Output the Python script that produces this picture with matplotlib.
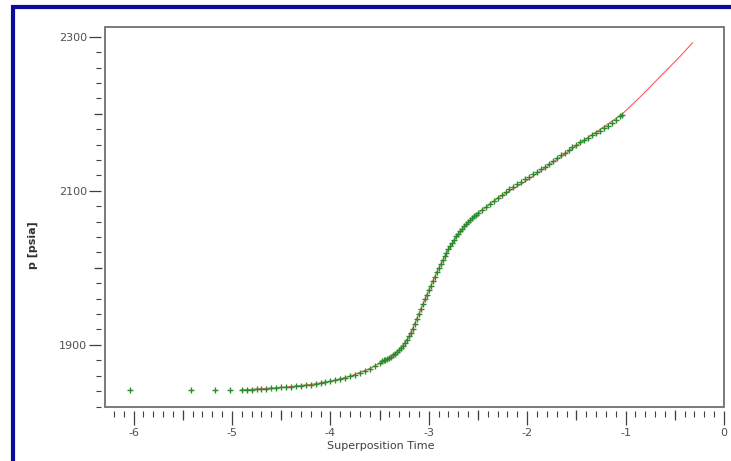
import matplotlib
matplotlib.use("Agg")
import matplotlib.pyplot as plt
from matplotlib.patches import Rectangle
from matplotlib.ticker import MultipleLocator, FixedLocator

plt.rcParams['font.family'] = 'DejaVu Sans'
plt.rcParams['axes.unicode_minus'] = False

# early-time points, away from the main trend
early_t = [-6.04, -5.42, -5.17, -5.02]
early_p = [1841.5, 1841.5, 1841.8, 1841.8]

meas_t = [-4.90, -4.85, -4.80, -4.75, -4.70, -4.65, -4.60, -4.55, -4.50, -4.45,
          -4.40, -4.35, -4.30, -4.25, -4.20, -4.15, -4.10, -4.05, -4.00, -3.95,
          -3.90, -3.85, -3.80, -3.75, -3.70, -3.65, -3.60, -3.55, -3.50,
          -3.48, -3.46, -3.44, -3.42, -3.40, -3.38, -3.36, -3.34, -3.32, -3.30,
          -3.28, -3.26, -3.24, -3.22, -3.20, -3.18, -3.16, -3.14, -3.12, -3.10,
          -3.08, -3.06, -3.04, -3.02, -3.00, -2.98, -2.96, -2.94, -2.92, -2.90,
          -2.88, -2.86, -2.84, -2.82, -2.80, -2.78, -2.76, -2.74, -2.72, -2.70,
          -2.68, -2.66, -2.64, -2.62, -2.60, -2.58, -2.56, -2.54, -2.52, -2.50,
          -2.46, -2.42, -2.38, -2.34, -2.30, -2.26, -2.22, -2.18, -2.14, -2.10,
          -2.06, -2.02, -1.98, -1.94, -1.90, -1.86, -1.82, -1.78, -1.74, -1.70,
          -1.66, -1.62, -1.58, -1.54, -1.50, -1.46, -1.42, -1.38, -1.34, -1.30,
          -1.26, -1.22, -1.18, -1.14, -1.10, -1.06, -1.04]
meas_p = [1841.5, 1841.8, 1842.1, 1842.5, 1842.9, 1843.3, 1843.8, 1844.3, 1844.8, 1845.3,
          1845.8, 1846.4, 1847.0, 1847.8, 1848.6, 1849.5, 1850.5, 1851.6, 1852.8, 1854.2,
          1855.8, 1857.5, 1859.3, 1861.2, 1863.2, 1866.0, 1869.2, 1872.8, 1876.8,
          1878.5, 1880.0, 1881.0, 1882.0, 1883.3, 1884.8, 1886.5, 1888.5, 1890.8, 1893.2,
          1896.0, 1899.2, 1902.8, 1906.8, 1911.0, 1915.5, 1920.0, 1926.5, 1933.5, 1940.5,
          1947.0, 1953.0, 1959.0, 1965.0, 1971.0, 1977.0, 1983.0, 1988.5, 1994.0, 1999.5,
          2005.0, 2010.0, 2015.0, 2019.5, 2024.0, 2028.0, 2032.5, 2036.5, 2041.0, 2044.5,
          2048.0, 2051.0, 2054.0, 2057.0, 2059.5, 2062.0, 2064.5, 2066.8, 2069.0, 2071.0,
          2075.2, 2079.2, 2083.0, 2086.8, 2090.5, 2094.5, 2098.5, 2102.0, 2105.5, 2108.9,
          2112.0, 2115.2, 2118.3, 2121.5, 2124.6, 2127.9, 2131.5, 2135.1, 2138.7, 2142.3,
          2145.9, 2149.4, 2153.0, 2156.6, 2159.8, 2162.9, 2165.9, 2169.0, 2172.0, 2175.1,
          2178.2, 2181.2, 2184.5, 2188.5, 2192.0, 2196.5, 2199.0]

# model curve
model_t = [-4.91, -4.50, -4.20, -4.00, -3.80, -3.60, -3.45, -3.30, -3.20, -3.10,
           -3.00, -2.90, -2.80, -2.70, -2.60, -2.50, -2.30, -2.00, -1.70, -1.40,
           -1.04, -0.85, -0.65, -0.45, -0.32]
model_p = [1841.5, 1844.8, 1848.6, 1852.8, 1859.3, 1869.2, 1879.5, 1893.2, 1911.0, 1940.5,
           1971.0, 1999.5, 2024.0, 2044.5, 2059.5, 2071.0, 2090.5, 2113.6, 2140.5, 2167.5,
           2199.0, 2222.0, 2248.0, 2274.0, 2292.0]

y_labeled = [1900, 2100, 2300]
y_half = [2000, 2200]
x_half = [-5.5, -4.5, -3.5, -2.5, -1.5, -0.5]

W, H = 731, 461
fig = plt.figure(figsize=(W / 100, H / 100), dpi=100)

# dark blue frame at top and left
fig.add_artist(Rectangle((12.5 / W, -0.5), 2.0, 1.5 - 7 / H, transform=fig.transFigure,
                         fill=False, edgecolor='#0c0c9c', linewidth=3.0))

ax = fig.add_axes([105 / W, 1 - 407 / H, 619 / W, 380 / H])

ax.plot(model_t, model_p, color='#ff5a5a', linewidth=0.8, zorder=2)
ax.plot(early_t + meas_t, early_p + meas_p, linestyle='none', marker='+',
        markersize=4.6, markeredgewidth=1.0, color='#2b8a2b', zorder=3)

ax.set_xlim(-6.29, 0)
ax.set_ylim(1819.4, 2312.6)

# box drawn separately, ticks sit a little outside it
for s in ax.spines.values():
    s.set_color('none')
ax.spines['bottom'].set_position(('outward', 3))
ax.spines['left'].set_position(('outward', 3))
ax.add_patch(Rectangle((0, 0), 1, 1, transform=ax.transAxes, fill=False,
                       edgecolor='#707070', linewidth=1.3, clip_on=False, zorder=5))

ax.xaxis.set_major_locator(MultipleLocator(1))
ax.xaxis.set_minor_locator(MultipleLocator(0.1))
ax.yaxis.set_major_locator(FixedLocator(y_labeled))
ax.yaxis.set_minor_locator(MultipleLocator(20))
ax.tick_params(which='major', direction='out', length=10, width=0.9, color='#404040',
               labelsize=8, labelcolor='#505050', pad=2)
ax.tick_params(which='minor', direction='out', length=4, width=0.8, color='#404040')
ax.tick_params(axis='y', which='major', length=9, pad=1)
ax.tick_params(axis='y', which='minor', length=3.5)

# half-step ticks (x: every 0.5, y: every 100)
secx = ax.secondary_xaxis(-3 / 380)
secx.xaxis.set_major_locator(FixedLocator(x_half))
secx.tick_params(direction='out', length=7, width=0.9, color='#404040', labelbottom=False)
secx.spines['bottom'].set_color('none')
secy = ax.secondary_yaxis(-3 / 619)
secy.yaxis.set_major_locator(FixedLocator(y_half))
secy.tick_params(direction='out', length=6, width=0.9, color='#404040', labelleft=False)
secy.spines['left'].set_color('none')

ax.set_xlabel('Superposition Time', fontsize=8, color='#404040')
ax.xaxis.set_label_coords((381 - 105) / 619, -0.09)
ax.set_ylabel('p [psia]', fontsize=8, fontweight='bold', color='#303030')
ax.yaxis.set_label_coords(-0.108, 0.426)

fig.savefig('out.png', dpi=100)
